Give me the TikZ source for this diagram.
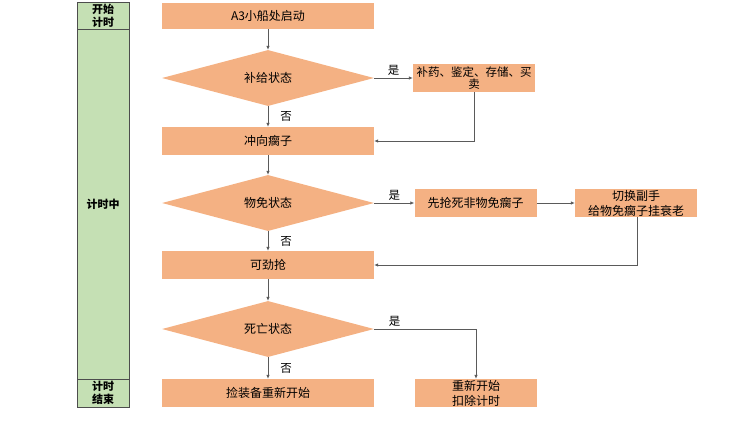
\documentclass[tikz,border=0pt]{standalone}
\usepackage{fontspec}
\setmainfont{Noto Sans CJK SC}
\usetikzlibrary{arrows.meta,shapes.geometric}

\definecolor{boxorange}{HTML}{F4B183}
\definecolor{lanegreen}{HTML}{C5E0B4}
\definecolor{lanegray}{HTML}{4D4D4D}
\definecolor{linegray}{HTML}{5A5A5A}

\begin{document}
\begin{tikzpicture}[x=1pt, y=-1pt,
    box/.style={fill=boxorange, minimum width=212pt, minimum height=28pt, inner sep=0pt,
        font=\fontsize{12}{15}\selectfont, align=center},
    sidebox/.style={box, minimum width=122pt},
    choice/.style={diamond, fill=boxorange, minimum width=212pt, minimum height=56pt,
        aspect=3.8, inner sep=0pt, font=\fontsize{12}{15}\selectfont},
    lane/.style={draw=lanegray, fill=lanegreen, line width=1pt},
    lanetext/.style={font=\fontsize{11}{13}\selectfont\bfseries, align=center},
    flow/.style={draw=linegray, line width=0.7pt, -{Latex[length=4pt,width=3.5pt]}},
    answer/.style={font=\fontsize{11.5}{13}\selectfont, inner sep=2pt}]

    \useasboundingbox (0,0) rectangle (749,421);

    % time lane on the left
    \draw[lane] (77,2) rectangle (129,29);
    \draw[lane] (77,29) rectangle (129,379);
    \draw[lane] (77,379) rectangle (129,407);
    \node[lanetext] (lanestart) at (103,15.5) {开始\\计时};
    \node[lanetext] (lanemid) at (103,204) {计时中};
    \node[lanetext] (laneend) at (103,393) {计时\\结束};

    % main column
    \node[box, minimum height=26pt] (start) at (268,16) {A3小船处启动};
    \node[choice] (supplyq) at (268,78) {补给状态};
    \node[box] (rush) at (268,141) {冲向瘸子};
    \node[choice] (immuneq) at (268,203) {物免状态};
    \node[box] (fight) at (268,265) {可劲抢};
    \node[choice] (deadq) at (268,329) {死亡状态};
    \node[box] (pickup) at (268,393) {捡装备重新开始};

    % side branches
    \node[sidebox, font=\fontsize{11.5}{11.5}\selectfont] (supply) at (474,78) {补药、鉴定、存储、买\\卖};
    \node[sidebox] (grab) at (475.5,203) {先抢死非物免瘸子};
    \node[sidebox] (swap) at (636,203) {切换副手\\给物免瘸子挂衰老};
    \node[sidebox] (restart) at (476,393) {重新开始\\扣除计时};

    % connectors
    \draw[flow] (start) -- (supplyq);
    \draw[flow] (supplyq) -- node[answer, right=10pt] {否} (rush);
    \draw[flow] (supplyq) -- node[answer, above] {是} (supply);
    \draw[flow] (supply.south) |- (rush.east);

    \draw[flow] (rush) -- (immuneq);
    \draw[flow] (immuneq) -- node[answer, right=10pt] {否} (fight);
    \draw[flow] (immuneq) -- node[answer, above] {是} (grab);
    \draw[flow] (grab) -- (swap);
    \draw[flow] (swap.south -| 637,0) |- (fight.east);

    \draw[flow] (fight) -- (deadq);
    \draw[flow] (deadq) -- node[answer, right=10pt] {否} (pickup);
    \draw[flow] (deadq.east) -| node[answer, above, pos=0.1] {是} (restart.north);
\end{tikzpicture}
\end{document}
